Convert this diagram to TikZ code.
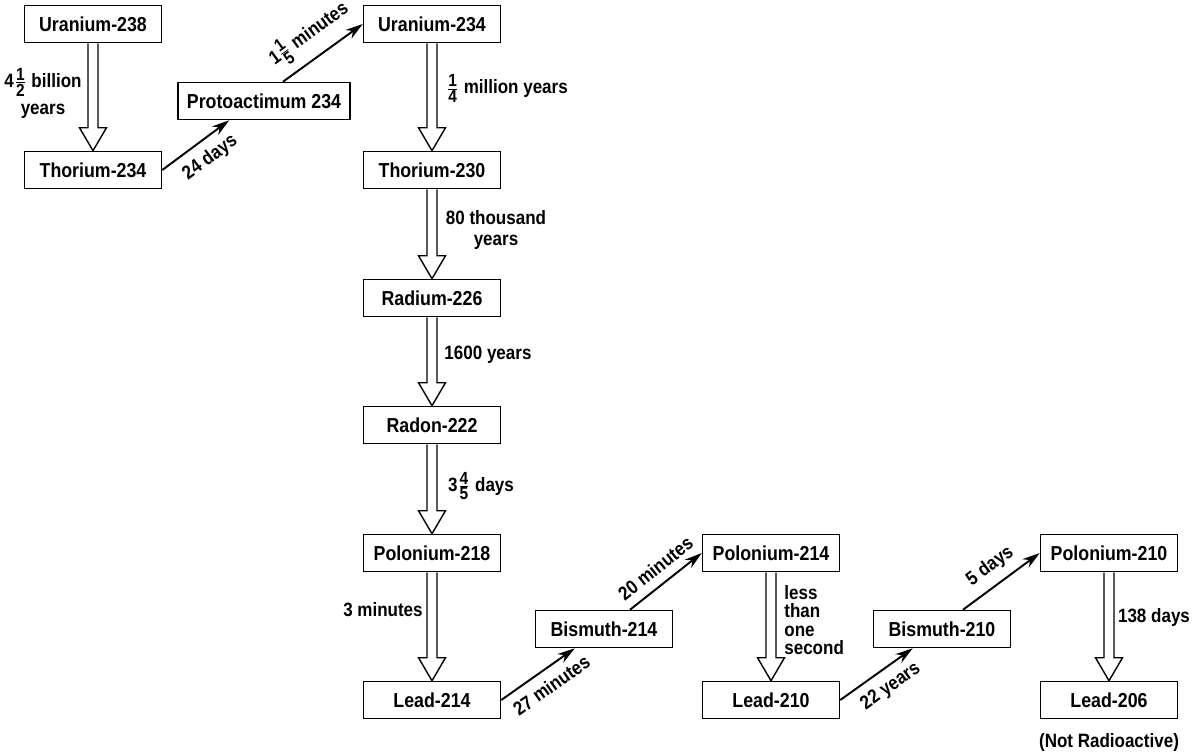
\documentclass[tikz,border=0pt]{standalone}
\usepackage{fontspec}
\setmainfont{Liberation Sans}[FakeStretch=0.88]
\usetikzlibrary{arrows.meta, calc}
\tikzstyle{isotope} = [rectangle, minimum width=2.74cm, minimum height=0.74cm, align=center, draw=black, line width=0.9pt, font=\bfseries\fontsize{11.5}{12}\selectfont]
\tikzstyle{period} = [align=center, inner sep=0pt, font=\bfseries\fontsize{11}{11.5}\selectfont]
\tikzstyle{decay} = [draw, line width=0.8pt, to path={let \p1=(\tikztostart), \p2=(\tikztotarget) in
  (\x1-0.1cm,\y1) -- (\x1-0.1cm,\y2+0.46cm) -- (\x1-0.27cm,\y2+0.46cm) -- (\x1,\y2)
  -- (\x1+0.27cm,\y2+0.46cm) -- (\x1+0.1cm,\y2+0.46cm) -- (\x1+0.1cm,\y1)}]
\tikzstyle{hop} = [line width=1.1pt, -{Stealth[length=10pt,width=6pt]}]
\newcommand{\ff}[2]{$\frac{\mbox{\fontsize{10}{10}\selectfont #1}}{\mbox{\fontsize{10}{10}\selectfont #2}}$}

\begin{document}
\begin{tikzpicture}[x=0.02cm, y=-0.02cm]
  \useasboundingbox (0,0) rectangle (1200,755);

  % Uranium series, first column
  \node (u238) at (93,24) [isotope] {Uranium-238};
  \node (th234) at (93,170) [isotope] {Thorium-234};
  \node (pa234) at (264,101) [isotope, minimum width=3.44cm] {Protoactimum 234};

  % main column
  \node (u234) at (432,24) [isotope] {Uranium-234};
  \node (th230) at (432,170) [isotope] {Thorium-230};
  \node (ra226) at (432,298) [isotope] {Radium-226};
  \node (rn222) at (432,425) [isotope] {Radon-222};
  \node (po218) at (432,553) [isotope] {Polonium-218};
  \node (pb214) at (432,700) [isotope] {Lead-214};

  % bottom row
  \node (bi214) at (604,629) [isotope] {Bismuth-214};
  \node (po214) at (771,553) [isotope] {Polonium-214};
  \node (pb210) at (771,700) [isotope] {Lead-210};
  \node (bi210) at (942,629) [isotope] {Bismuth-210};
  \node (po210) at (1109,553) [isotope] {Polonium-210};
  \node (pb206) at (1109,700) [isotope] {Lead-206};
  \node (stable) at (1109,742) [period] {(Not Radioactive)};

  % half lives
  \node (t1) at (43,93) [period, font=\bfseries\fontsize{11}{15}\selectfont] {4\ff12 billion\\years};
  \node (t2) at (507,88) [period] {\ff14 million years};
  \node (t3) at (496,230) [period] {80 thousand\\years};
  \node (t4) at (488,355) [period] {1600 years};
  \node (t5) at (481,486) [period] {3\ff45 days};
  \node (t6) at (423,610) [period, anchor=east] {3 minutes};
  \node (t7) at (784,620) [period, anchor=west, align=left, font=\bfseries\fontsize{11}{10.5}\selectfont] {less\\than\\one\\second};
  \node (t8) at (1154,617) [period] {138 days};

  % hollow arrows
  \draw[decay] (u238.south) to (th234.north);
  \draw[decay] (u234.south) to (th230.north);
  \draw[decay] (th230.south) to (ra226.north);
  \draw[decay] (ra226.south) to (rn222.north);
  \draw[decay] (rn222.south) to (po218.north);
  \draw[decay] (po218.south) to (pb214.north);
  \draw[decay] (po214.south) to (pb210.north);
  \draw[decay] (po210.south) to (pb206.north);

  % thin arrows
  \draw[hop] (th234.east) -- node[period, sloped, below=5pt, pos=0.55] {24 days} ([xshift=1.04cm]pa234.south west);
  \draw[hop] ([xshift=0.38cm]pa234.north) -- node[period, sloped, above=5pt] {1\ff15 minutes} (u234.west);
  \draw[hop] (pb214.east) -- node[period, sloped, below=5pt, pos=0.55] {27 minutes} ([xshift=0.8cm]bi214.south west);
  \draw[hop] ([xshift=0.52cm]bi214.north) -- node[period, sloped, above=5pt] {20 minutes} (po214.west);
  \draw[hop] (pb210.east) -- node[period, sloped, below=5pt, pos=0.55] {22 years} ([xshift=0.8cm]bi210.south west);
  \draw[hop] ([xshift=0.42cm]bi210.north) -- node[period, sloped, above=5pt] {5 days} (po210.west);

\end{tikzpicture}
\end{document}
